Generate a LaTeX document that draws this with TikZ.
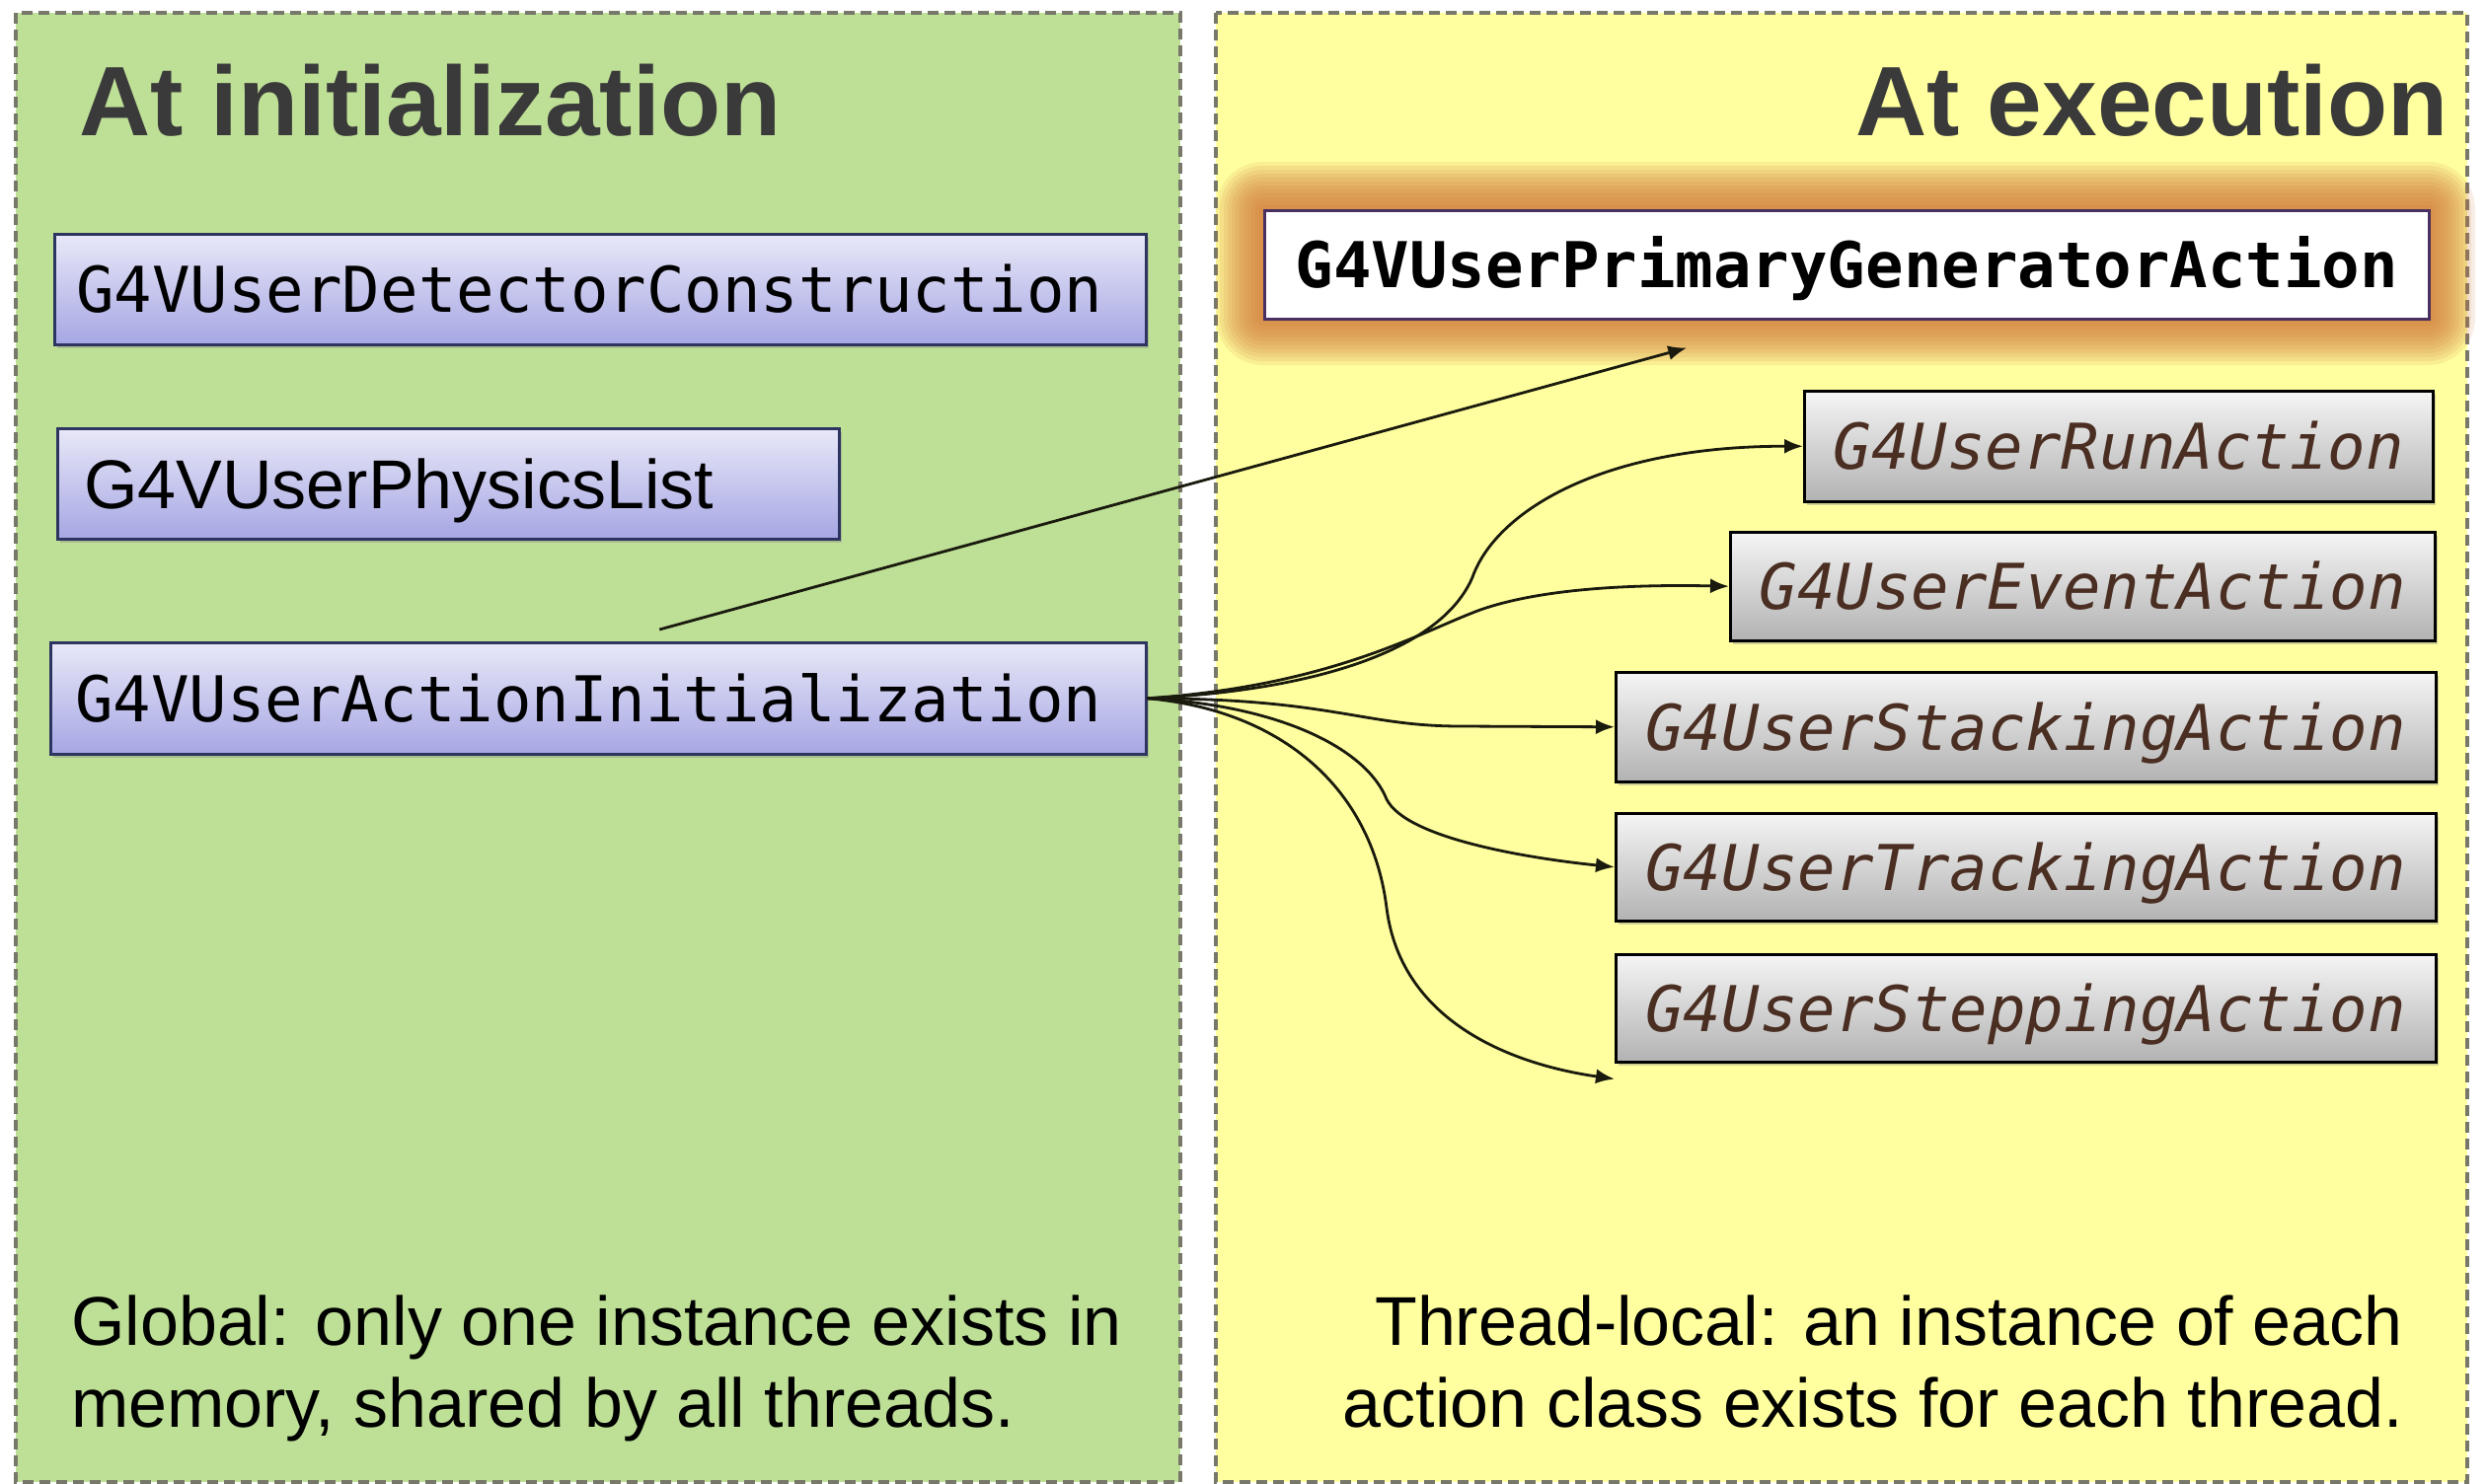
\documentclass[tikz,border=0pt]{standalone}
\usepackage{fontspec}
\setmainfont{Liberation Sans}
\newfontfamily\monof{DejaVu Sans Mono}
\usetikzlibrary{arrows.meta,shadows}
\definecolor{greenpanel}{HTML}{BEDF96}
\definecolor{yellowpanel}{HTML}{FFFF9F}
\definecolor{panelborder}{HTML}{77776A}
\definecolor{titlecol}{HTML}{3A3A3A}
\definecolor{bluetop}{HTML}{E8E8F8}
\definecolor{bluebot}{HTML}{A6A6E4}
\definecolor{blueborder}{HTML}{2E3460}
\definecolor{graytop}{HTML}{F5F5F5}
\definecolor{graybot}{HTML}{B2B2B2}
\definecolor{italcol}{HTML}{4A2E22}
\definecolor{glowcol}{HTML}{D27538}
\definecolor{pgborder}{HTML}{4A3060}
\definecolor{linecol}{HTML}{1A1A0E}
\begin{document}
\begin{tikzpicture}[x=1pt,y=-1pt,
  panel/.style={draw=panelborder, line width=3.5pt, dash pattern=on 11pt off 6pt},
  boxbase/.style={anchor=north west, inner ysep=0pt, line width=2.5pt,
    drop shadow={shadow xshift=3pt, shadow yshift=-4pt, opacity=0.35}},
  bluebox/.style={boxbase, draw=blueborder, top color=bluetop, bottom color=bluebot,
    font=\monof\fontsize{64}{70}\selectfont, text height=47pt, text depth=0pt, align=left},
  sansbox/.style={boxbase, draw=blueborder, top color=bluetop, bottom color=bluebot,
    font=\fontsize{70}{80}\selectfont, text height=50pt, text depth=0pt, align=left},
  graybox/.style={boxbase, draw=black, top color=graytop, bottom color=graybot,
    inner xsep=0pt, text=italcol,
    font=\monof\itshape\fontsize{64}{70}\selectfont, text height=47pt, text depth=0pt},
  pgbox/.style={anchor=north west, inner sep=0pt, line width=2.5pt, draw=pgborder, fill=white,
    font=\monof\bfseries\fontsize{64}{70}\selectfont, text height=47pt, text depth=0pt},
  titletext/.style={inner sep=0pt, text=titlecol, font=\bfseries\fontsize{100}{110}\selectfont},
  bodytext/.style={inner sep=0pt, font=\fontsize{70}{83}\selectfont},
  conn/.style={line width=2.8pt, draw=linecol, -{Latex[length=19pt,width=15pt]}}
]
\useasboundingbox (0,0) rectangle (2520,1504);
\fill[white] (0,0) rectangle (2520,1504);
% panels
\path[panel, fill=greenpanel] (16,13) rectangle (1196,1502);
\path[panel, fill=yellowpanel] (1232,13) rectangle (2500,1502);
% titles
\node[titletext, anchor=base west] (tinit) at (80,137) {At initialization};
\node[titletext, anchor=base east] (texec) at (2481,137) {At execution};
% left boxes
\node[bluebox, minimum width=1106pt, minimum height=112pt, inner xsep=22pt, text width=1062pt] (dc) at (54,236) {G4VUserDetectorConstruction};
\node[sansbox, minimum width=792pt, minimum height=112pt, inner xsep=27pt, text width=738pt] (pl) at (57,433) {G4VUserPhysicsList};
\node[bluebox, minimum width=1110pt, minimum height=113pt, inner xsep=25pt, text width=1060pt] (ai) at (50,650) {G4VUserActionInitialization};
% glow behind primary generator
\foreach \r in {48,44,...,2}{
  \fill[glowcol, opacity=0.12, rounded corners=\r pt] ({1280-\r},{212-\r}) rectangle ({2460+\r},{322+\r});
}
\node[pgbox, minimum width=1180pt, minimum height=110pt] (pg) at (1280,212) {G4VUserPrimaryGeneratorAction};
% right boxes
\node[graybox, minimum width=637pt, minimum height=112pt] (run) at (1827,395) {G4UserRunAction};
\node[graybox, minimum width=714pt, minimum height=110pt] (evt) at (1752,538) {G4UserEventAction};
\node[graybox, minimum width=831pt, minimum height=111pt] (stk) at (1636,680) {G4UserStackingAction};
\node[graybox, minimum width=831pt, minimum height=109pt] (trk) at (1636,823) {G4UserTrackingAction};
\node[graybox, minimum width=831pt, minimum height=109pt] (stp) at (1636,966) {G4UserSteppingAction};
% body texts (base anchor = last line)
\node[bodytext, anchor=base west, align=left] (glob) at (72,1446) {Global: only one instance exists in\\memory, shared by all threads.};
\node[bodytext, anchor=base east, align=right] (thr) at (2435,1446) {Thread-local: an instance of each\\action class exists for each thread.};
% connectors
\coordinate (pgtip) at ([xshift=-162pt,yshift=-28pt]pg.south);
\coordinate (aitop) at ([xshift=62pt,yshift=12pt]ai.north);
\coordinate (stptip) at ([yshift=-16pt]stp.south west);
\draw[conn] (aitop) -- (pgtip);
\draw[conn] (ai.east) .. controls (1330,700) and (1460,660) .. (1492,585) .. controls (1515,520) and (1620,452) .. (run.west);
\draw[conn] (ai.east) .. controls (1350,695) and (1440,640) .. (1500,618) .. controls (1560,597) and (1650,592) .. (evt.west);
\draw[conn] (ai.east) .. controls (1350,708) and (1380,736) .. (1480,736) -- (stk.west);
\draw[conn] (ai.east) .. controls (1300,715) and (1385,760) .. (1405,810) .. controls (1425,850) and (1550,870) .. (trk.west);
\draw[conn] (ai.east) .. controls (1300,720) and (1390,800) .. (1405,920) .. controls (1420,1040) and (1540,1080) .. (stptip);
\end{tikzpicture}
\end{document}
